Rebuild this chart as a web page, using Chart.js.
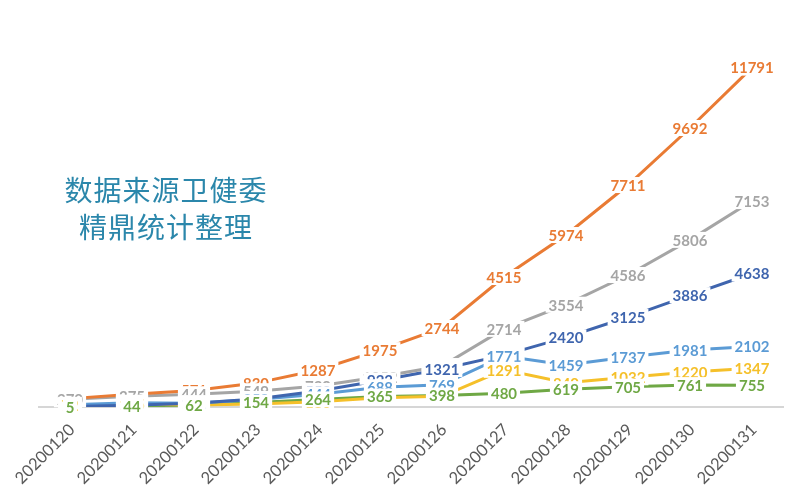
<!DOCTYPE html>
<html>
<head>
<meta charset="utf-8">
<script src="https://cdn.jsdelivr.net/npm/chart.js@4/dist/chart.umd.min.js"></script>
<style>
  html, body { margin: 0; padding: 0; background: #ffffff; }
  #wrap { position: relative; width: 800px; height: 500px; }
  #note {
    position: absolute; left: 40px; top: 171px; width: 252px;
    text-align: center; font-family: "Noto Sans CJK SC", sans-serif;
    font-size: 28px; line-height: 37px; color: #2b87ab; letter-spacing: 1px;
  }
</style>
</head>
<body>
<div id="wrap">
  <canvas id="c" width="800" height="500"></canvas>
  <div id="note">数据来源卫健委<br>精鼎统计整理</div>
</div>
<script>
const dates = ['20200120','20200121','20200122','20200123','20200124','20200125',
               '20200126','20200127','20200128','20200129','20200130','20200131'];
const nationalTotal = [291, 440, 571, 830, 1287, 1975, 2744, 4515, 5974, 7711, 9692, 11791];
const hubeiTotal    = [270, 375, 444, 549, 729, 1052, 1423, 2714, 3554, 4586, 5806, 7153];
const outsideTotal  = [21, 65, 127, 281, 558, 923, 1321, 1801, 2420, 3125, 3886, 4638];
const nationalNew   = [77, 149, 131, 259, 444, 688, 769, 1771, 1459, 1737, 1981, 2102];
const hubeiNew      = [72, 105, 69, 105, 180, 323, 371, 1291, 840, 1032, 1220, 1347];
const outsideNew    = [5, 44, 62, 154, 264, 365, 398, 480, 619, 705, 761, 755];

const seriesNames  = ['全国累计', '湖北累计', '湖北以外累计', '全国新增', '湖北新增', '湖北以外新增'];
const seriesData   = [nationalTotal, hubeiTotal, outsideTotal, nationalNew, hubeiNew, outsideNew];
const seriesColors = ['#E97B34', '#A5A5A5', '#3F65AE', '#5B9BD5', '#F5C02A', '#6FA845'];

const labelPlugin = {
  id: 'pointLabels',
  afterDatasetsDraw(chart) {
    const ctx = chart.ctx;
    ctx.save();
    ctx.font = 'bold 15px Lato, sans-serif';
    ctx.textAlign = 'center';
    ctx.textBaseline = 'middle';
    chart.data.datasets.forEach((ds, di) => {
      const meta = chart.getDatasetMeta(di);
      meta.data.forEach((pt, i) => {
        const txt = String(ds.data[i]);
        const w = ctx.measureText(txt).width;
        ctx.fillStyle = '#ffffff';
        ctx.fillRect(pt.x - w / 2 - 3, pt.y - 8, w + 6, 16);
        ctx.fillStyle = ds.borderColor;
        ctx.fillText(txt, pt.x, pt.y + 1);
      });
    });
    ctx.restore();
  }
};

new Chart(document.getElementById('c'), {
  type: 'line',
  data: {
    labels: dates,
    datasets: seriesData.map((d, i) => ({
      label: seriesNames[i],
      data: d,
      borderColor: seriesColors[i],
      backgroundColor: seriesColors[i],
      borderWidth: 3,
      pointRadius: 0,
      tension: 0,
      fill: false
    }))
  },
  options: {
    responsive: false,
    animation: false,
    layout: { padding: { left: 39, right: 17, top: 4, bottom: 0 } },
    plugins: { legend: { display: false }, tooltip: { enabled: false } },
    scales: {
      x: {
        offset: true,
        grid: { display: false, drawTicks: false },
        border: { display: true, color: '#d6d6d6', width: 2 },
        ticks: {
          autoSkip: false, minRotation: 45, maxRotation: 45, padding: 13, labelOffset: 2,
          color: '#595959', font: { family: 'Lato, sans-serif', size: 16.5 }
        },
        afterFit(scale) { scale.height = 93; }
      },
      y: {
        display: false, min: 0, max: 14000
      }
    }
  },
  plugins: [labelPlugin]
});
</script>
</body>
</html>
